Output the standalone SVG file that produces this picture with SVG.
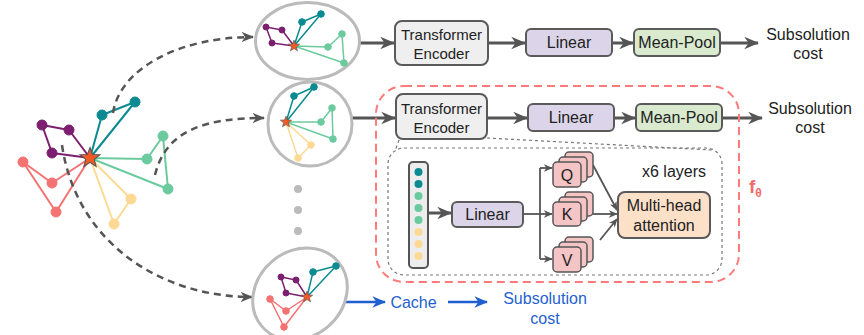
<svg xmlns="http://www.w3.org/2000/svg" width="864" height="335" viewBox="0 0 864 335">
  <style>
    .lbl { font-family: "Liberation Sans", Arial, sans-serif; font-size: 16px; fill: #222; text-anchor: middle; }
    .te { font-size: 15px; }
    .box { stroke: #5a5a5a; stroke-width: 2; }
    .flow { stroke: #555; stroke-width: 3; fill: none; }
    .thin { stroke: #555; stroke-width: 1.8; fill: none; }
    .dash { stroke: #555; stroke-width: 2.5; fill: none; stroke-dasharray: 7 5; }
    .blue { stroke: #1f5fcf; stroke-width: 2.5; fill: none; }
    .bluetxt { fill: #1f5fcf; }
    .shell { fill: #fff; stroke: #bbb; stroke-width: 3; }
    .teal { stroke: #0b8b91; fill: #0b8b91; }
    .purp { stroke: #7c1f70; fill: #7c1f70; }
    .green { stroke: #6ccb9e; fill: #6ccb9e; }
    .yel { stroke: #fed993; fill: #fed993; }
    .red { stroke: #f47272; fill: #f47272; }
    .e2 polyline { fill: none; stroke-width: 2; stroke-linejoin: round; }
    .e1 polyline { fill: none; stroke-width: 1.5; stroke-linejoin: round; }
    .qkv { fill: #f5c4c5; stroke: #555; stroke-width: 1.5; }
  </style>
  <defs>
    <marker id="chev" viewBox="0 0 12 10" refX="11" refY="5" markerWidth="5" markerHeight="5" markerUnits="strokeWidth" orient="auto">
      <path d="M0,0 L12,5 L0,10 L3.5,5 z" fill="#555"/>
    </marker>
    <marker id="chevD" viewBox="0 0 12 10" refX="11" refY="5" markerWidth="5" markerHeight="5" markerUnits="strokeWidth" orient="auto">
      <path d="M0,0 L12,5 L0,10 L3.5,5 z" fill="#555"/>
    </marker>
    <marker id="chevS" viewBox="0 0 12 10" refX="11" refY="5" markerWidth="5" markerHeight="5" markerUnits="strokeWidth" orient="auto">
      <path d="M0,0 L12,5 L0,10 L3.5,5 z" fill="#555"/>
    </marker>
    <marker id="chevB" viewBox="0 0 12 10" refX="11" refY="5" markerWidth="5.5" markerHeight="5.5" markerUnits="strokeWidth" orient="auto">
      <path d="M0,0 L12,5 L0,10 L3.5,5 z" fill="#1f5fcf"/>
    </marker>
    <path id="star" d="M0,-10 L2.47,-3.4 L9.51,-3.09 L3.99,1.3 L5.88,8.09 L0,4.2 L-5.88,8.09 L-3.99,1.3 L-9.51,-3.09 L-2.47,-3.4 z" fill="#f15a24" stroke="#555" stroke-width="1"/>
  </defs>

  <!-- full tour graph around the depot -->
  <g id="tour" class="e2">
    <polyline class="purp" points="90,158 52,153 42,125 69,130 90,158"/>
    <polyline class="teal" points="90,158 102,115 135,102 90,158"/>
    <polyline class="green" points="90,158 147,159 163,136 168,189 90,158"/>
    <polyline class="yel" points="90,158 131,199 114,224 90,158"/>
    <polyline class="red" points="90,158 52,183 23,162 56,212 90,158"/>
    <g stroke="none">
      <circle class="purp" cx="52" cy="153" r="5"/><circle class="purp" cx="42" cy="125" r="5"/><circle class="purp" cx="69" cy="130" r="5"/>
      <circle class="teal" cx="102" cy="115" r="5"/><circle class="teal" cx="135" cy="102" r="5"/>
      <circle class="green" cx="147" cy="159" r="5"/><circle class="green" cx="163" cy="136" r="5"/><circle class="green" cx="168" cy="189" r="5"/>
      <circle class="yel" cx="131" cy="199" r="5"/><circle class="yel" cx="114" cy="224" r="5"/>
      <circle class="red" cx="52" cy="183" r="5"/><circle class="red" cx="23" cy="162" r="5"/><circle class="red" cx="56" cy="212" r="5"/>
    </g>
  </g>

  <!-- connectors -->
  <g id="connectors">
    <path class="dash" d="M113,113 C120,68 180,37 253,37" marker-end="url(#chevD)"/>
    <path class="dash" d="M155,175 C166,130 205,118 264,118" marker-end="url(#chevD)"/>
    <path class="dash" d="M62,145 C76,242 160,297 252,297" marker-end="url(#chevD)"/>

    <line class="flow" x1="360" y1="43" x2="394" y2="43" marker-end="url(#chev)"/>
    <line class="flow" x1="488" y1="43" x2="525" y2="43" marker-end="url(#chev)"/>
    <line class="flow" x1="612" y1="43" x2="633" y2="43" marker-end="url(#chev)"/>
    <line class="flow" x1="720" y1="43" x2="758" y2="43" marker-end="url(#chev)"/>

    <line class="flow" x1="352" y1="118" x2="395" y2="118" marker-end="url(#chev)"/>
    <line class="flow" x1="487" y1="118" x2="527" y2="118" marker-end="url(#chev)"/>
    <line class="flow" x1="614" y1="118" x2="635" y2="118" marker-end="url(#chev)"/>
    <line class="flow" x1="722" y1="118" x2="762" y2="118" marker-end="url(#chev)"/>

    <!-- zoom-in guides from the encoder to its detail -->
    <line x1="399" y1="140" x2="395" y2="151" stroke="#777" stroke-width="1.2" stroke-dasharray="3 3"/>
    <line x1="487" y1="138" x2="712" y2="150" stroke="#777" stroke-width="1.2" stroke-dasharray="3 3"/>

    <line class="flow" x1="428" y1="213" x2="451" y2="213" marker-end="url(#chev)"/>
    <polyline class="thin" points="523,214 540,214"/>
    <line class="thin" x1="540" y1="168" x2="540" y2="259"/>
    <line class="thin" x1="540" y1="168" x2="552" y2="168" marker-end="url(#chevS)"/>
    <line class="thin" x1="540" y1="214" x2="552" y2="214" marker-end="url(#chevS)"/>
    <line class="thin" x1="540" y1="259" x2="552" y2="259" marker-end="url(#chevS)"/>

    <line class="thin" x1="593" y1="165" x2="617" y2="210" marker-end="url(#chevS)"/>
    <line class="thin" x1="593" y1="214" x2="617" y2="214" marker-end="url(#chevS)"/>
    <line class="thin" x1="600" y1="240" x2="617" y2="219" marker-end="url(#chevS)"/>

    <line class="blue" x1="343" y1="302" x2="385" y2="302" marker-end="url(#chevB)"/>
    <line class="blue" x1="448" y1="302" x2="487" y2="302" marker-end="url(#chevB)"/>
  </g>

  <!-- depot of the full tour, drawn over the dashed connectors -->
  <g id="depot">
    <use href="#star" transform="translate(90,158) scale(1.05)"/>
  </g>

  <!-- sub-tour 1 -->
  <g id="sub1" class="e1">
    <ellipse class="shell" cx="307.5" cy="41" rx="52" ry="38.5"/>
    <polyline class="purp" points="294,46 272,43 266,27 282,30 294,46"/>
    <polyline class="teal" points="294,46 302,22 321,14 294,46"/>
    <polyline class="green" points="294,46 328,47 342,34 344,63 294,46"/>
    <g stroke="none">
      <circle class="purp" cx="272" cy="43" r="3"/><circle class="purp" cx="266" cy="27" r="3"/><circle class="purp" cx="282" cy="30" r="3"/>
      <circle class="teal" cx="302" cy="22" r="3.3"/><circle class="teal" cx="321" cy="14" r="3.3"/>
      <circle class="green" cx="328" cy="47" r="3.3"/><circle class="green" cx="342" cy="34" r="3.3"/><circle class="green" cx="344" cy="63" r="3.3"/>
    </g>
    <use href="#star" transform="translate(294,46) scale(0.6)"/>
  </g>

  <!-- sub-tour 2 -->
  <g id="sub2" class="e1">
    <circle class="shell" cx="310" cy="124" r="42"/>
    <polyline class="teal" points="286,122 294,96 314,87 286,122"/>
    <polyline class="green" points="286,122 321,122 332,108 333,139 286,122"/>
    <polyline class="yel" points="286,122 311,145 298,158 286,122"/>
    <g stroke="none">
      <circle class="teal" cx="294" cy="96" r="3.3"/><circle class="teal" cx="314" cy="87" r="3.3"/>
      <circle class="green" cx="321" cy="122" r="3.3"/><circle class="green" cx="332" cy="108" r="3.3"/><circle class="green" cx="333" cy="139" r="3.3"/>
      <circle class="yel" cx="311" cy="145" r="3.3"/><circle class="yel" cx="298" cy="158" r="3.3"/>
    </g>
    <use href="#star" transform="translate(286,122) scale(0.6)"/>
  </g>

  <g id="ellipsis" fill="#bbb">
    <circle cx="298" cy="189" r="4"/>
    <circle cx="298" cy="210" r="4"/>
    <circle cx="298" cy="231" r="4"/>
  </g>

  <!-- sub-tour 3 -->
  <g id="sub3" class="e1">
    <ellipse class="shell" cx="300" cy="294" rx="50" ry="43" transform="rotate(-40 300 294)"/>
    <polyline class="purp" points="307,297 286,293 281,277 296,280 307,297"/>
    <polyline class="teal" points="307,297 313,272 336,266 307,297"/>
    <polyline class="red" points="307,297 286,311 270,299 284,327 307,297"/>
    <g stroke="none">
      <circle class="purp" cx="286" cy="293" r="3"/><circle class="purp" cx="281" cy="277" r="3"/><circle class="purp" cx="296" cy="280" r="3"/>
      <circle class="teal" cx="313" cy="272" r="3.3"/><circle class="teal" cx="336" cy="266" r="3.3"/>
      <circle class="red" cx="286" cy="311" r="3.3"/><circle class="red" cx="270" cy="299" r="3.3"/><circle class="red" cx="284" cy="327" r="3.3"/>
    </g>
    <use href="#star" transform="translate(307,297) scale(0.6)"/>
  </g>

  <!-- top pipeline -->
  <g id="enc1">
    <rect class="box" x="395" y="21" width="93" height="44" rx="7" fill="#efefef"/>
    <text class="lbl te" x="441.5" y="40">Transformer</text>
    <text class="lbl te" x="441.5" y="59">Encoder</text>
  </g>
  <g id="lin1">
    <rect class="box" x="526" y="29" width="86" height="27" rx="5" fill="#dcd5ea"/>
    <text class="lbl" x="569" y="48">Linear</text>
  </g>
  <g id="pool1">
    <rect class="box" x="634" y="29" width="86" height="27" rx="5" fill="#d9eacf"/>
    <text class="lbl" x="677" y="48">Mean-Pool</text>
  </g>
  <g id="cost1">
    <text class="lbl" x="808" y="40">Subsolution</text>
    <text class="lbl" x="808" y="59">cost</text>
  </g>

  <!-- learned model f_theta -->
  <g id="model">
    <rect x="376" y="86" width="363" height="196" rx="28" fill="none" stroke="#ff7b7b" stroke-width="2" stroke-dasharray="8 5"/>
    <text x="749" y="193" font-family="Liberation Sans, Arial, sans-serif" font-size="19" font-weight="bold" fill="#f26b6b">f<tspan font-size="12" dy="4">θ</tspan></text>
  </g>

  <g id="enc2">
    <rect class="box" x="396" y="94" width="91" height="45" rx="7" fill="#efefef"/>
    <text class="lbl te" x="441.5" y="114">Transformer</text>
    <text class="lbl te" x="441.5" y="133">Encoder</text>
  </g>
  <g id="lin2">
    <rect class="box" x="528" y="104" width="86" height="27" rx="5" fill="#dcd5ea"/>
    <text class="lbl" x="571" y="123">Linear</text>
  </g>
  <g id="pool2">
    <rect class="box" x="636" y="104" width="86" height="27" rx="5" fill="#d9eacf"/>
    <text class="lbl" x="679" y="123">Mean-Pool</text>
  </g>
  <g id="cost2">
    <text class="lbl" x="810" y="114">Subsolution</text>
    <text class="lbl" x="810" y="133">cost</text>
  </g>

  <!-- encoder detail -->
  <g id="layers">
    <rect x="388" y="148" width="334" height="127" rx="16" fill="none" stroke="#777" stroke-width="1.2" stroke-dasharray="3 3"/>
    <text class="lbl" x="674" y="177">x6 layers</text>
  </g>
  <g id="tokens">
    <rect x="409" y="162" width="19" height="106" rx="4" fill="#ededed" stroke="#555" stroke-width="2"/>
    <circle cx="418.5" cy="172" r="4" fill="#0b8b91"/>
    <circle cx="418.5" cy="184" r="4" fill="#0b8b91"/>
    <circle cx="418.5" cy="196" r="4" fill="#6ccb9e"/>
    <circle cx="418.5" cy="208" r="4" fill="#6ccb9e"/>
    <circle cx="418.5" cy="220" r="4" fill="#6ccb9e"/>
    <circle cx="418.5" cy="232" r="4" fill="#fed993"/>
    <circle cx="418.5" cy="244" r="4" fill="#fed993"/>
    <circle cx="418.5" cy="256" r="4" fill="#fed993"/>
  </g>
  <g id="lin3">
    <rect class="box" x="452" y="202" width="71" height="25" rx="5" fill="#dcd5ea"/>
    <text class="lbl" x="487.5" y="220">Linear</text>
  </g>
  <g id="q">
    <rect class="qkv" x="565" y="152" width="28" height="25" rx="4"/>
    <rect class="qkv" x="559" y="157" width="28" height="25" rx="4"/>
    <rect class="qkv" x="553" y="162" width="28" height="25" rx="4"/>
    <text class="lbl" x="567" y="181">Q</text>
  </g>
  <g id="k">
    <rect class="qkv" x="565" y="192" width="28" height="24" rx="4"/>
    <rect class="qkv" x="559" y="197" width="28" height="24" rx="4"/>
    <rect class="qkv" x="553" y="202" width="28" height="24" rx="4"/>
    <text class="lbl" x="567" y="220">K</text>
  </g>
  <g id="v">
    <rect class="qkv" x="565" y="237" width="28" height="25" rx="4"/>
    <rect class="qkv" x="559" y="242" width="28" height="25" rx="4"/>
    <rect class="qkv" x="553" y="247" width="28" height="25" rx="4"/>
    <text class="lbl" x="567" y="266">V</text>
  </g>
  <g id="mha">
    <rect class="box" x="618" y="192" width="92" height="46" rx="7" fill="#fde0c8"/>
    <text class="lbl" x="664" y="211">Multi-head</text>
    <text class="lbl" x="664" y="231">attention</text>
  </g>

  <!-- cached path -->
  <g id="cache">
    <text class="lbl bluetxt" x="413.5" y="308">Cache</text>
  </g>
  <g id="cost3">
    <text class="lbl bluetxt" x="545" y="304">Subsolution</text>
    <text class="lbl bluetxt" x="545" y="324">cost</text>
  </g>
</svg>
